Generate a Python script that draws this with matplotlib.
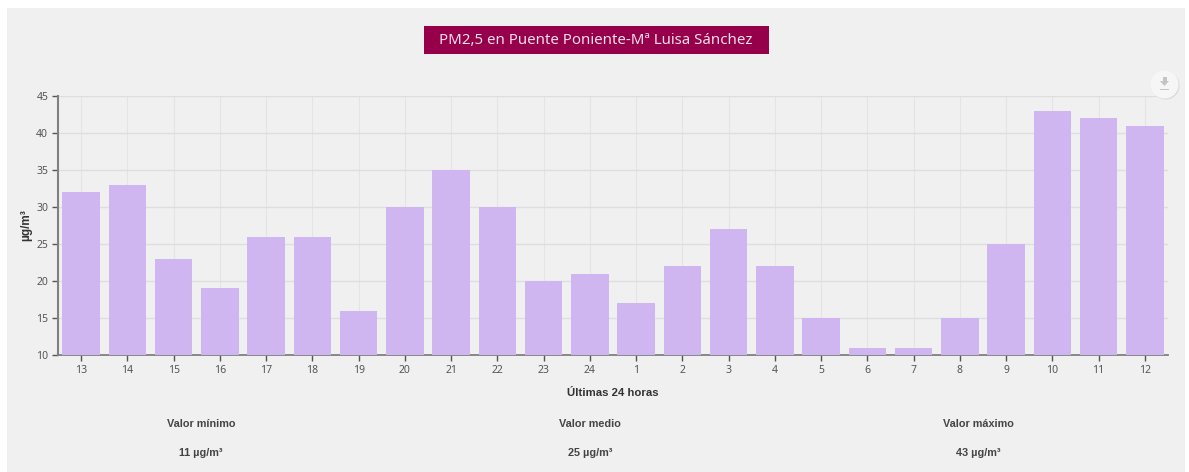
import matplotlib
matplotlib.use("Agg")
import matplotlib.pyplot as plt
from matplotlib.patches import Rectangle, Circle, Polygon

W, H = 1189, 472

hours = ["13", "14", "15", "16", "17", "18", "19", "20", "21", "22", "23", "24",
         "1", "2", "3", "4", "5", "6", "7", "8", "9", "10", "11", "12"]
pm25 = [32, 33, 23, 19, 26, 26, 16, 30, 35, 30, 20, 21,
        17, 22, 27, 22, 15, 11, 11, 15, 25, 43, 42, 41]
y_ticks = [10, 15, 20, 25, 30, 35, 40, 45]
stat_labels = ["Valor mínimo", "Valor medio", "Valor máximo"]
stat_values = ["11 µg/m³", "25 µg/m³", "43 µg/m³"]

plt.rcParams["font.family"] = ["Noto Sans", "DejaVu Sans"]
bold_font = ["Liberation Sans", "DejaVu Sans"]

fig = plt.figure(figsize=(W / 100, H / 100), dpi=100, facecolor="white")

# grey panel behind everything
fig.add_artist(Rectangle((7 / W, 0), 1178 / W, 464 / H, transform=fig.transFigure,
                         facecolor="#f0f0f0", edgecolor="none", zorder=-5))

ax = fig.add_axes([58 / W, (H - 355) / H, 1110 / W, 259 / H])
ax.patch.set_alpha(0)
ax.bar(range(len(pm25)), pm25, width=0.81, color="#cfb6f1", zorder=3)
ax.set_xlim(-0.5, 23.5)
ax.set_ylim(10, 45)
ax.set_xticks(range(len(hours)))
ax.set_xticklabels(hours)
ax.set_yticks(y_ticks)
ax.yaxis.grid(True, color="#dedede", linewidth=1, zorder=0)
ax.xaxis.grid(True, color="#e4e4e4", linewidth=0.8, zorder=0)
ax.tick_params(axis="both", labelsize=7.5, colors="#555555", length=4, width=1)
ax.tick_params(axis="x", pad=3.5)
ax.tick_params(axis="y", pad=3)
for s in ["top", "right"]:
    ax.spines[s].set_visible(False)
ax.spines["left"].set_color("#808080")
ax.spines["left"].set_linewidth(1.5)
ax.spines["bottom"].set_color("#808080")
ax.spines["bottom"].set_linewidth(1.3)
ax.set_xlabel("Últimas 24 horas", fontsize=8.2, fontweight="bold", family=bold_font,
              color="#333333", labelpad=8.5)
ax.set_ylabel("µg/m³", fontsize=8.5, fontweight="bold", family=bold_font,
              color="#333333", labelpad=3)

# title box
fig.add_artist(Rectangle((423.5 / W, (H - 54) / H), 345.5 / W, 28 / H, transform=fig.transFigure,
                         facecolor="#96004b", edgecolor="none"))
fig.text(596 / W, (H - 41) / H, "PM2,5 en Puente Poniente-Mª Luisa Sánchez", color="#f5dfe9",
         fontsize=10.8, ha="center", va="center")

# download button
btn = fig.add_axes([1148 / W, (H - 102) / H, 34 / W, 34 / H])
btn.set_xlim(0, 34)
btn.set_ylim(34, 0)
btn.axis("off")
btn.add_patch(Circle((17.6, 17.6), 14, facecolor="#dcdcdc", edgecolor="none"))
btn.add_patch(Circle((16.5, 16.5), 14, facecolor="#f6f6f6", edgecolor="none"))
btn.add_patch(Rectangle((14.5, 8.5), 4, 5, facecolor="#c4c4c4", edgecolor="none"))
btn.add_patch(Polygon([(12, 13), (21, 13), (16.5, 18)], facecolor="#c4c4c4", edgecolor="none"))
btn.add_patch(Rectangle((12, 20.5), 9, 1.6, facecolor="#c4c4c4", edgecolor="none"))

# summary values under the chart
stat_x = [201, 590, 978.5]
for x, label, value in zip(stat_x, stat_labels, stat_values):
    fig.text(x / W, (H - 424) / H, label, fontsize=7.8, fontweight="bold", family=bold_font,
             color="#444444", ha="center", va="center")
    fig.text(x / W, (H - 453) / H, value, fontsize=7.8, fontweight="bold", family=bold_font,
             color="#444444", ha="center", va="center")

fig.savefig("out.png", dpi=100, facecolor="white")
